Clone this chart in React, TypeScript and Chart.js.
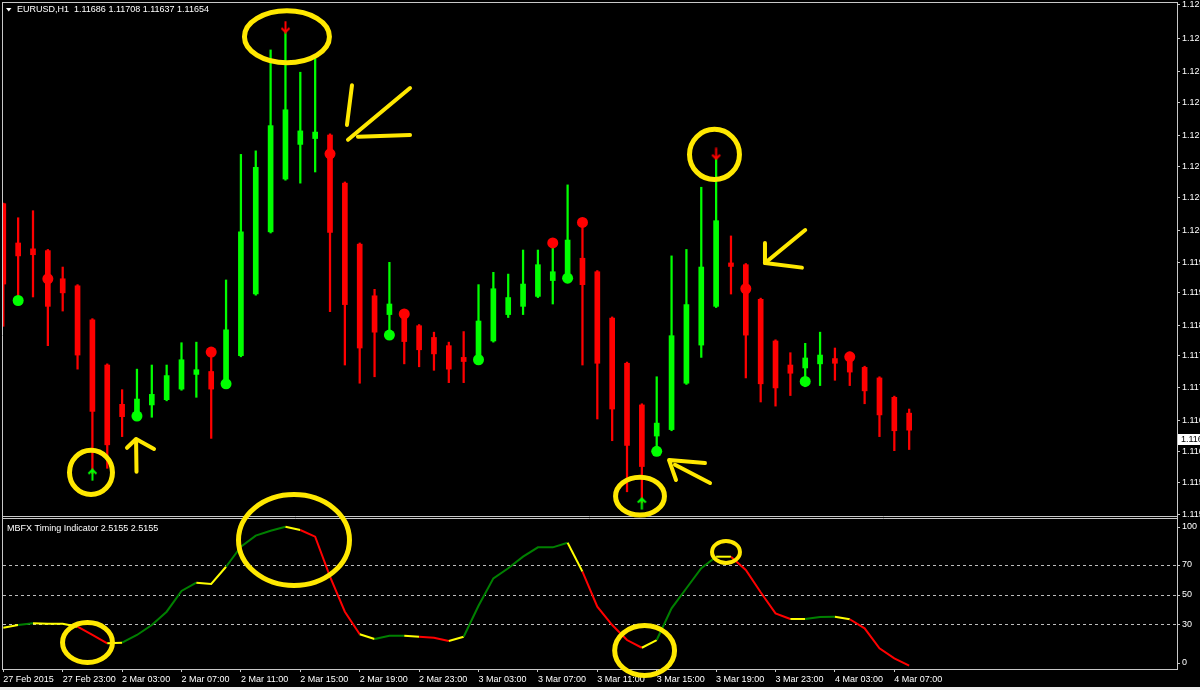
import React, { useEffect, useRef } from 'react';
import { Chart, registerables } from 'chart.js';

Chart.register(...registerables);

// ---------- data (EURUSD, H1) ----------
const openP = [1.12055, 1.11988, 1.11978, 1.11975, 1.11927, 1.11915, 1.11857, 1.11780, 1.11713, 1.11698,
  1.11712, 1.11721, 1.11739, 1.11764, 1.11769, 1.11748, 1.11796, 1.11901, 1.12007, 1.12097,
  1.12156, 1.12166, 1.12172, 1.12090, 1.11986, 1.11898, 1.11866, 1.11866, 1.11847, 1.11827,
  1.11813, 1.11793, 1.11789, 1.11821, 1.11866, 1.11880, 1.11897, 1.11924, 1.11928, 1.11962,
  1.11939, 1.11860, 1.11783, 1.11712, 1.11659, 1.11670, 1.11749, 1.11814, 1.11880, 1.11954,
  1.11951, 1.11892, 1.11821, 1.11780, 1.11775, 1.11782, 1.11791, 1.11794, 1.11776, 1.11758,
  1.11725, 1.11698];
const highP = [1.12056, 1.12031, 1.12043, 1.11977, 1.11947, 1.11917, 1.11859, 1.11782, 1.11738, 1.11773,
  1.11780, 1.11780, 1.11818, 1.11819, 1.11806, 1.11925, 1.12139, 1.12145, 1.12317, 1.12350,
  1.12279, 1.12306, 1.12174, 1.12092, 1.11988, 1.11909, 1.11955, 1.11875, 1.11849, 1.11836,
  1.11819, 1.11837, 1.11917, 1.11938, 1.11935, 1.11976, 1.11976, 1.11982, 1.12087, 1.12023,
  1.11941, 1.11862, 1.11785, 1.11714, 1.11760, 1.11966, 1.11977, 1.12083, 1.12134, 1.12000,
  1.11953, 1.11894, 1.11823, 1.11801, 1.11817, 1.11836, 1.11809, 1.11802, 1.11778, 1.11760,
  1.11727, 1.11705];
const lowP = [1.11846, 1.11892, 1.11896, 1.11813, 1.11872, 1.11773, 1.11595, 1.11604, 1.11658, 1.11695,
  1.11691, 1.11719, 1.11737, 1.11725, 1.11655, 1.11746, 1.11794, 1.11899, 1.12005, 1.12095,
  1.12090, 1.12109, 1.11871, 1.11780, 1.11749, 1.11760, 1.11831, 1.11782, 1.11777, 1.11771,
  1.11750, 1.11750, 1.11787, 1.11819, 1.11861, 1.11866, 1.11895, 1.11884, 1.11926, 1.11780,
  1.11688, 1.11651, 1.11564, 1.11545, 1.11641, 1.11668, 1.11747, 1.11793, 1.11878, 1.11901,
  1.11758, 1.11717, 1.11710, 1.11728, 1.11743, 1.11745, 1.11754, 1.11745, 1.11714, 1.11658,
  1.11634, 1.11636];
const closeP = [1.11918, 1.11966, 1.11968, 1.11880, 1.11903, 1.11797, 1.11701, 1.11644, 1.11692, 1.11722,
  1.11730, 1.11762, 1.11789, 1.11772, 1.11739, 1.11840, 1.12007, 1.12117, 1.12188, 1.12215,
  1.12179, 1.12177, 1.12006, 1.11883, 1.11809, 1.11836, 1.11884, 1.11820, 1.11806, 1.11799,
  1.11773, 1.11786, 1.11855, 1.11910, 1.11895, 1.11918, 1.11951, 1.11939, 1.11993, 1.11917,
  1.11783, 1.11705, 1.11643, 1.11607, 1.11681, 1.11830, 1.11883, 1.11947, 1.12026, 1.11948,
  1.11831, 1.11748, 1.11741, 1.11766, 1.11792, 1.11797, 1.11783, 1.11768, 1.11736, 1.11695,
  1.11668, 1.11669];

const greenDotBars = [1, 9, 15, 26, 32, 38, 44, 54];
const greenDotPrices = [1.11890, 1.11693, 1.11748, 1.11831, 1.11789, 1.11928, 1.11633, 1.11752];
const redDotBars = [3, 14, 22, 27, 37, 39, 50, 57];
const redDotPrices = [1.11927, 1.11802, 1.12140, 1.11867, 1.11988, 1.12023, 1.11910, 1.11794];
const buyArrowBars = [6, 43];
const buyArrowPrices = [1.11593, 1.11544];
const sellArrowBars = [19, 48];
const sellArrowPrices = [1.12356, 1.12140];

const mbfxValues = [27.7, 29.5, 30.7, 30.4, 30.4, 28.4, 22.8, 17.2, 17.6, 22.8,
  29.5, 38.5, 52.5, 58.1, 57.2, 68.8, 82.3, 89.8, 93.1, 95.8,
  93.6, 89.1, 62.1, 38.5, 23.3, 20.1, 22.3, 22.3, 21.6, 21.0,
  18.7, 21.6, 42.5, 61.0, 67.8, 75.6, 81.9, 81.9, 85.0, 65.5,
  41.9, 29.5, 19.4, 14.2, 19.4, 40.8, 54.3, 67.8, 75.6, 75.6,
  66.6, 51.6, 37.4, 33.6, 33.6, 34.9, 35.1, 33.4, 27.3, 13.8,
  7.1, 2.1];
// state of the segment that starts at each bar: G = rising, Y = flat, R = falling
const mbfxStates = ['Y', 'G', 'Y', 'Y', 'Y', 'R', 'R', 'Y', 'G', 'G',
  'G', 'G', 'G', 'Y', 'Y', 'G', 'G', 'G', 'G', 'Y',
  'R', 'R', 'R', 'R', 'Y', 'G', 'G', 'Y', 'R', 'R',
  'Y', 'G', 'G', 'G', 'G', 'G', 'G', 'G', 'Y', 'R',
  'R', 'R', 'R', 'Y', 'G', 'G', 'G', 'G', 'Y', 'R',
  'R', 'R', 'R', 'Y', 'G', 'G', 'Y', 'R', 'R', 'R',
  'R', 'R'];
const mbfxDashedLevels = [70, 50, 30];
const mbfxScaleLabels = [100, 70, 50, 30, 0];

const timeTickBars = [0, 4, 8, 12, 16, 20, 24, 28, 32, 36, 40, 44, 48, 52, 56, 60];
const timeLabels = ['27 Feb 2015', '27 Feb 23:00', '2 Mar 03:00', '2 Mar 07:00', '2 Mar 11:00',
  '2 Mar 15:00', '2 Mar 19:00', '2 Mar 23:00', '3 Mar 03:00', '3 Mar 07:00', '3 Mar 11:00',
  '3 Mar 15:00', '3 Mar 19:00', '3 Mar 23:00', '4 Mar 03:00', '4 Mar 07:00'];
const priceTicks = [1.12394, 1.12337, 1.12281, 1.12228, 1.12172, 1.12118, 1.12066, 1.12010,
  1.11954, 1.11903, 1.11848, 1.11796, 1.11741, 1.11685, 1.11632, 1.11579, 1.11525];

const headerText = 'EURUSD,H1  1.11686 1.11708 1.11637 1.11654';
const lastBid = 1.11654;
const indicatorTitle = 'MBFX Timing Indicator 2.5155 2.5155';

// hand-drawn yellow marks, in chart coordinates: [barFrom, barTo, valueTop, valueBottom]
const priceRings = [
  [4.29, 7.52, 1.11639, 1.11555],
  [16.07, 22.13, 1.12388, 1.12291],
  [41.06, 44.69, 1.11593, 1.11520],
  [46.04, 49.74, 1.12186, 1.12092],
];
const mbfxRings = [
  [3.82, 7.52, 32.9, 2.6],
  [15.67, 23.48, 119.2, 54.5],
  [41.0, 45.37, 30.9, -6.2],
  [47.59, 49.74, 87.5, 70.0],
];
const priceStrokes = [
  [[8.97, 1.11598], [8.94, 1.11653]],
  [[8.33, 1.11639], [8.94, 1.11654], [10.15, 1.11637]],
  [[23.48, 1.12257], [23.14, 1.12189]],
  [[27.39, 1.12252], [23.21, 1.12164]],
  [[23.88, 1.12169], [27.39, 1.12172]],
  [[47.25, 1.11613], [44.83, 1.11618], [45.30, 1.11584]],
  [[45.23, 1.11610], [47.59, 1.11579]],
  [[54.0, 1.12010], [51.29, 1.11954]],
  [[51.29, 1.11988], [51.29, 1.11954], [53.78, 1.11946]],
];

// ---------- styling ----------
const FONT_FAMILY = "'Liberation Sans', Arial, sans-serif";
const TEXT = '#ffffff';
const FRAME = '#c8c8c8';
const BULL = '#00ff00';
const BEAR = '#ff0000';
const MARKER = '#ffe800';
const MBFX_COLOR: Record<string, string> = { G: '#008000', Y: '#ffff00', R: '#ff0000' };

function arrowImage(color: string, up: boolean) {
  const c = document.createElement('canvas');
  c.width = 11;
  c.height = 13;
  const g = c.getContext('2d')!;
  g.strokeStyle = color;
  g.lineWidth = 2;
  g.beginPath();
  if (up) {
    g.moveTo(5.5, 12.5); g.lineTo(5.5, 1.5);
    g.moveTo(1.5, 5.5); g.lineTo(5.5, 1.5); g.lineTo(9.5, 5.5);
  } else {
    g.moveTo(5.5, 0.5); g.lineTo(5.5, 11.5);
    g.moveTo(1.5, 7.5); g.lineTo(5.5, 11.5); g.lineTo(9.5, 7.5);
  }
  g.stroke();
  return c;
}

const overlayPlugin = {
  id: 'mt4overlay',
  beforeDraw(chart: any) {
    const { ctx, width, height } = chart;
    ctx.save();
    ctx.fillStyle = '#000000';
    ctx.fillRect(0, 0, width, height);
    ctx.restore();
  },
  beforeDatasetsDraw(chart: any) {
    const { ctx, chartArea: a, scales } = chart;
    const y2 = scales.y2;
    ctx.save();
    ctx.strokeStyle = '#bcbcbc';
    ctx.lineWidth = 1;
    ctx.setLineDash([3, 3]);
    for (const lv of mbfxDashedLevels) {
      const py = Math.round(y2.getPixelForValue(lv)) + 0.5;
      ctx.beginPath();
      ctx.moveTo(a.left + 1, py);
      ctx.lineTo(a.right, py);
      ctx.stroke();
    }
    ctx.restore();
  },
  afterDraw(chart: any) {
    const { ctx, chartArea: a, scales } = chart;
    const xs = scales.x;
    const ys = scales.y;
    const y2 = scales.y2;
    ctx.save();
    // panel frames
    ctx.strokeStyle = FRAME;
    ctx.lineWidth = 1;
    ctx.setLineDash([]);
    ctx.beginPath();
    ctx.moveTo(a.left + 0.5, a.top - 0.5); ctx.lineTo(a.left + 0.5, a.bottom);
    ctx.moveTo(a.left, a.top - 0.5); ctx.lineTo(a.right + 1, a.top - 0.5);
    ctx.moveTo(a.left, ys.bottom - 0.5); ctx.lineTo(a.right, ys.bottom - 0.5);
    ctx.moveTo(a.left, y2.top + 1.5); ctx.lineTo(a.right, y2.top + 1.5);
    ctx.stroke();

    // indicator scale (labels kept inside the panel like MT4)
    ctx.font = `9px ${FONT_FAMILY}`;
    ctx.textBaseline = 'middle';
    ctx.textAlign = 'left';
    ctx.fillStyle = TEXT;
    for (const v of mbfxScaleLabels) {
      let py = y2.getPixelForValue(v);
      py = Math.min(Math.max(py, y2.top + 10), y2.bottom - 6);
      const ry = Math.round(py) + 0.5;
      ctx.beginPath();
      ctx.moveTo(y2.left, ry);
      ctx.lineTo(y2.left + 3, ry);
      ctx.stroke();
      ctx.fillText(String(v), y2.left + 5, py);
    }

    // bid price box
    const bp = ys.getPixelForValue(lastBid);
    ctx.fillStyle = '#ffffff';
    ctx.fillRect(ys.left + 1, Math.round(bp) - 5, 40, 11);
    ctx.fillStyle = '#000000';
    ctx.fillText(lastBid.toFixed(5), ys.left + 4, bp + 0.5);

    // header and indicator title
    ctx.fillStyle = TEXT;
    ctx.beginPath();
    ctx.moveTo(6, 8); ctx.lineTo(11.5, 8); ctx.lineTo(8.75, 11.5); ctx.closePath();
    ctx.fill();
    ctx.fillText(headerText, 17, 9.5);
    ctx.fillText(indicatorTitle, 7, y2.top + 12);

    // window edge strip
    ctx.fillStyle = '#ececec';
    ctx.fillRect(0, 687, chart.width, 3);

    // yellow hand-drawn marks
    ctx.strokeStyle = MARKER;
    ctx.lineCap = 'round';
    ctx.lineJoin = 'round';
    const ring = (scale: any, r: number[], w: number) => {
      const x1 = xs.getPixelForValue(r[0]);
      const x2 = xs.getPixelForValue(r[1]);
      const yA = scale.getPixelForValue(r[2]);
      const yB = scale.getPixelForValue(r[3]);
      ctx.lineWidth = w;
      ctx.beginPath();
      ctx.ellipse((x1 + x2) / 2, (yA + yB) / 2, Math.abs(x2 - x1) / 2 - w / 2,
        Math.abs(yB - yA) / 2 - w / 2, 0, 0, Math.PI * 2);
      ctx.stroke();
    };
    priceRings.forEach((r) => ring(ys, r, 5));
    mbfxRings.forEach((r, i) => ring(y2, r, i === 3 ? 4 : 5));
    ctx.lineWidth = 4;
    for (const s of priceStrokes) {
      ctx.beginPath();
      s.forEach((p, i) => {
        const px = xs.getPixelForValue(p[0]);
        const py = ys.getPixelForValue(p[1]);
        if (i === 0) ctx.moveTo(px, py); else ctx.lineTo(px, py);
      });
      ctx.stroke();
    }
    ctx.restore();
  },
};

export default function App() {
  const ref = useRef<HTMLCanvasElement>(null);

  useEffect(() => {
    document.body.style.margin = '0';
    const canvas = ref.current;
    if (!canvas) return;

    const candleColors = openP.map((o, i) => (closeP[i] >= o ? BULL : BEAR));
    const font = { family: FONT_FAMILY, size: 9 };

    const chart = new Chart(canvas, {
      type: 'bar',
      data: {
        datasets: [
          {
            type: 'line',
            data: sellArrowBars.map((b, i) => ({ x: b, y: sellArrowPrices[i] })),
            showLine: false,
            pointStyle: arrowImage(BEAR, false) as any,
            pointRadius: 6,
            yAxisID: 'y',
            xAxisID: 'x',
          } as any,
          {
            type: 'line',
            data: buyArrowBars.map((b, i) => ({ x: b, y: buyArrowPrices[i] })),
            showLine: false,
            pointStyle: arrowImage(BULL, true) as any,
            pointRadius: 6,
            yAxisID: 'y',
            xAxisID: 'x',
          } as any,
          {
            type: 'line',
            data: redDotBars.map((b, i) => ({ x: b, y: redDotPrices[i] })),
            showLine: false,
            pointRadius: 5.5,
            pointBorderWidth: 0,
            pointBackgroundColor: BEAR,
            pointBorderColor: BEAR,
            yAxisID: 'y',
            xAxisID: 'x',
          } as any,
          {
            type: 'line',
            data: greenDotBars.map((b, i) => ({ x: b, y: greenDotPrices[i] })),
            showLine: false,
            pointRadius: 5.5,
            pointBorderWidth: 0,
            pointBackgroundColor: BULL,
            pointBorderColor: BULL,
            yAxisID: 'y',
            xAxisID: 'x',
          } as any,
          {
            type: 'bar',
            data: openP.map((o, i) => ({ x: i, y: [Math.min(o, closeP[i]), Math.max(o, closeP[i])] })),
            backgroundColor: candleColors,
            borderWidth: 0,
            barThickness: 5,
            minBarLength: 1.5,
            grouped: false,
            yAxisID: 'y',
            xAxisID: 'x',
          } as any,
          {
            type: 'bar',
            data: lowP.map((l, i) => ({ x: i, y: [l, highP[i]] })),
            backgroundColor: candleColors,
            borderWidth: 0,
            barThickness: 1.6,
            grouped: false,
            yAxisID: 'y',
            xAxisID: 'x',
          } as any,
          {
            type: 'line',
            data: mbfxValues.map((v, i) => ({ x: i, y: v })),
            borderColor: MBFX_COLOR.G,
            borderWidth: 2,
            pointRadius: 0,
            tension: 0,
            segment: {
              borderColor: (c: any) => MBFX_COLOR[mbfxStates[c.p0DataIndex]],
            },
            yAxisID: 'y2',
            xAxisID: 'x',
          } as any,
        ],
      },
      options: {
        responsive: false,
        maintainAspectRatio: false,
        animation: false,
        devicePixelRatio: 1,
        events: [],
        layout: { autoPadding: false, padding: { left: 2, top: 3, right: 0, bottom: 0 } },
        plugins: {
          legend: { display: false },
          tooltip: { enabled: false },
          title: { display: false },
        },
        scales: {
          x: {
            type: 'linear',
            min: -0.0875,
            max: 79.035,
            offset: false,
            afterBuildTicks: (s: any) => {
              s.ticks = timeTickBars.map((v) => ({ value: v }));
            },
            afterFit: (s: any) => {
              s.height = 21;
              s.paddingLeft = 0;
              s.paddingRight = 0;
            },
            ticks: {
              autoSkip: false,
              maxRotation: 0,
              minRotation: 0,
              align: 'start',
              padding: 2,
              color: TEXT,
              font,
              callback: (_v: any, idx: number) => timeLabels[idx] ?? '',
            },
            grid: { drawOnChartArea: false, drawTicks: true, tickLength: 3, color: FRAME, offset: false },
            border: { display: true, color: FRAME },
          },
          y: {
            type: 'linear',
            position: 'right',
            stack: 'panels',
            stackWeight: 514,
            min: 1.11521,
            max: 1.12397,
            afterBuildTicks: (s: any) => {
              s.ticks = priceTicks.map((v) => ({ value: v }));
            },
            afterFit: (s: any) => {
              s.width = 23;
              s.paddingTop = 0;
              s.paddingBottom = 0;
            },
            ticks: {
              autoSkip: false,
              padding: 2,
              color: TEXT,
              font,
              callback: (v: any) => Number(v).toFixed(5),
            },
            grid: { drawOnChartArea: false, drawTicks: true, tickLength: 3, color: FRAME },
            border: { display: true, color: FRAME },
          },
          y2: {
            type: 'linear',
            position: 'right',
            stack: 'panels',
            stackWeight: 152,
            min: -0.135,
            max: 102.36,
            afterBuildTicks: (s: any) => {
              s.ticks = [];
            },
            afterFit: (s: any) => {
              s.width = 23;
              s.paddingTop = 0;
              s.paddingBottom = 0;
            },
            ticks: { display: false },
            grid: { display: false },
            border: { display: true, color: FRAME },
          },
        } as any,
      },
      plugins: [overlayPlugin],
    } as any);

    return () => chart.destroy();
  }, []);

  return (
    <div style={{ position: 'fixed', left: 0, top: 0, width: 1200, height: 690, background: '#000', overflow: 'hidden' }}>
      <canvas ref={ref} width={1200} height={690} style={{ display: 'block', width: 1200, height: 690 }} />
    </div>
  );
}
